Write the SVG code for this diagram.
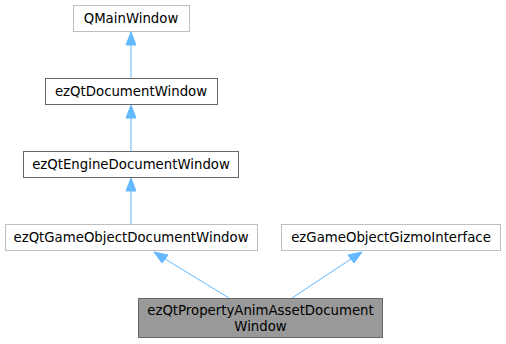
<svg xmlns="http://www.w3.org/2000/svg" width="506" height="344" viewBox="0 0 506 344">
<defs>
<style>
.n rect{fill:#fff;stroke:#666;stroke-width:1}
.n.g rect{stroke:#bfbfbf}
.n.s rect{fill:#999;stroke:#666}
text{font-family:"DejaVu Sans",sans-serif;font-size:13.3px;fill:#000;text-anchor:middle}
.e{stroke:#63b8ff;stroke-width:1;fill:none}
.h{fill:#63b8ff;stroke:#63b8ff}
</style>
</defs>
<g id="edges">
<path class="e" d="M131 78V45"/><polygon class="h" points="131,32 126,45 136,45"/>
<path class="e" d="M131 151V118"/><polygon class="h" points="131,105 126,118 136,118"/>
<path class="e" d="M131 224V191"/><polygon class="h" points="131,178 126,191 136,191"/>
<path class="e" d="M229 298L165 259"/><polygon class="h" points="154,252 162,263 168,255"/>
<path class="e" d="M292 298L351 259"/><polygon class="h" points="362,252 348,255 354,263"/>
</g>
<g id="QMainWindow" class="n g"><rect x="73.5" y="5.5" width="116" height="26"/><text x="131" y="23">QMainWindow</text></g>
<g id="ezQtDocumentWindow" class="n"><rect x="45.5" y="78.5" width="172" height="26"/><text x="131" y="96">ezQtDocumentWindow</text></g>
<g id="ezQtEngineDocumentWindow" class="n"><rect x="23.5" y="151.5" width="215" height="26"/><text x="131" y="169">ezQtEngineDocumentWindow</text></g>
<g id="ezQtGameObjectDocumentWindow" class="n g"><rect x="5.5" y="224.5" width="252" height="26"/><text x="131" y="242">ezQtGameObjectDocumentWindow</text></g>
<g id="ezGameObjectGizmoInterface" class="n g"><rect x="281.5" y="224.5" width="219" height="26"/><text x="391" y="242">ezGameObjectGizmoInterface</text></g>
<g id="ezQtPropertyAnimAssetDocumentWindow" class="n s"><rect x="138.5" y="298.5" width="244" height="39"/><text x="260.5" y="315">ezQtPropertyAnimAssetDocument</text><text x="260.5" y="331">Window</text></g>
</svg>
